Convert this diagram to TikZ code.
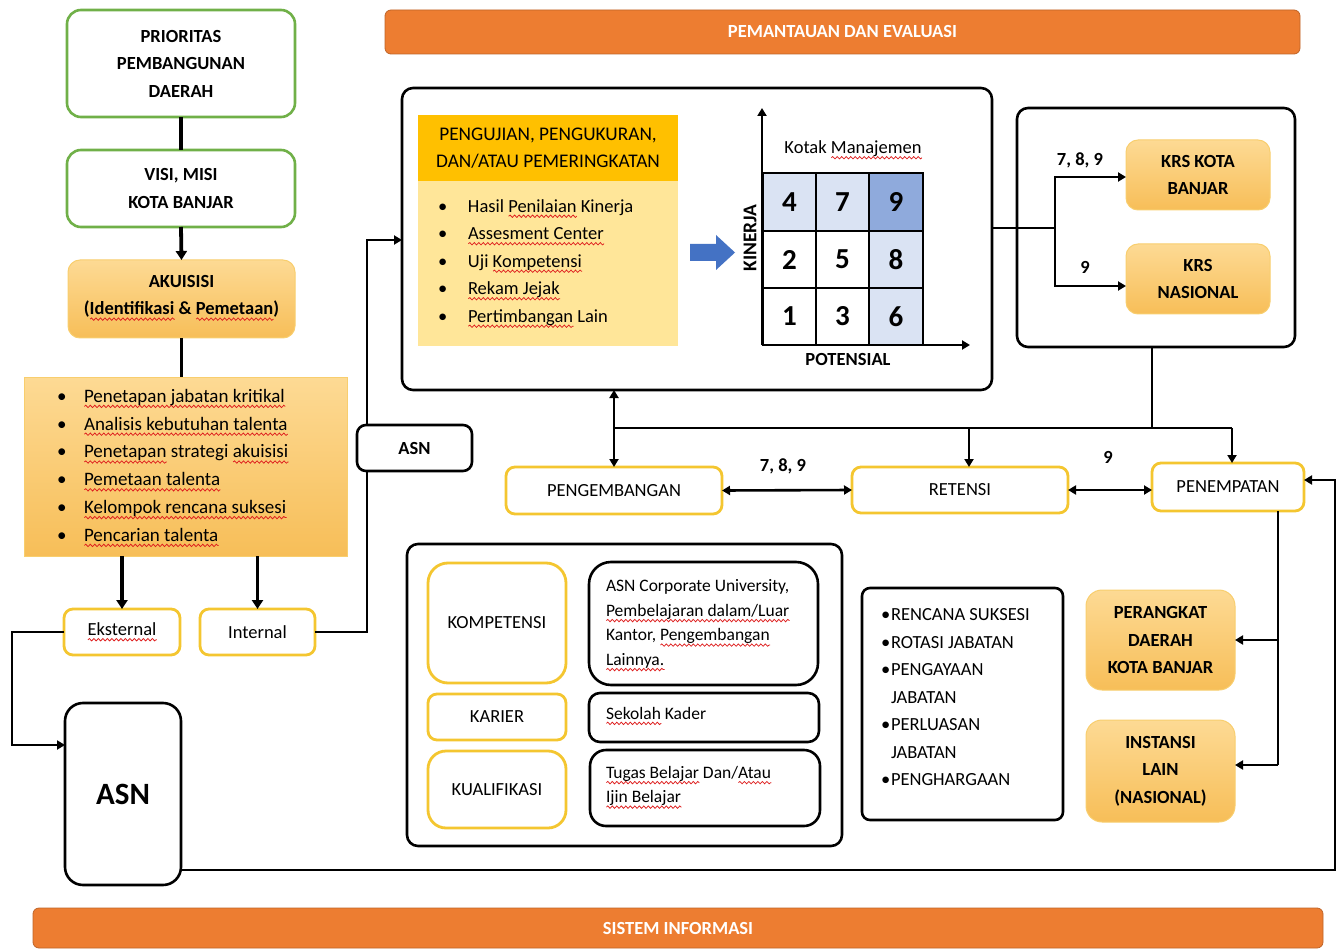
\documentclass[tikz,border=0pt]{standalone}
\usepackage{fontspec}
\setmainfont{Carlito}
\usetikzlibrary{arrows.meta,calc,decorations.pathmorphing}
\definecolor{wavered}{RGB}{222,30,30}
\definecolor{boxgreen}{RGB}{112,176,72}
\definecolor{ybord}{RGB}{244,198,48}
\definecolor{ortop}{RGB}{253,218,148}
\definecolor{orbot}{RGB}{247,190,88}
\definecolor{oredge}{RGB}{248,206,110}
\definecolor{bannerc}{RGB}{237,125,49}
\definecolor{bannerdk}{RGB}{190,100,40}
\definecolor{gold}{RGB}{255,192,0}
\definecolor{paleyel}{RGB}{255,230,153}
\definecolor{blueL}{RGB}{218,227,243}
\definecolor{blueM}{RGB}{143,170,220}
\definecolor{arrowblue}{RGB}{68,114,196}
\newsavebox\rwbox
\newcommand\rw[1]{\leavevmode\sbox\rwbox{#1}\rlap{\tikz[x=1pt,y=1pt,baseline=0pt,sharp corners]\draw[draw=wavered,fill=none,sharp corners,solid,line width=0.75pt,decorate,decoration={snake,amplitude=1.2pt,segment length=4.5pt}] (0pt,-4.2pt) -- (\the\wd\rwbox,-4.2pt);}\usebox\rwbox}
\newcommand\fsz{\fontsize{18.5}{27.5}\selectfont}
\newcommand\fsm{\fontsize{17.5}{24.5}\selectfont}
\newcommand\bul[1]{\makebox[#1][l]{\textbullet}}
\begin{document}
\begin{tikzpicture}[x=1pt,y=-1pt,
 every node/.style={inner sep=0pt,outer sep=0pt,font=\fsz},
 greenbox/.style={draw=boxgreen,line width=2.6pt,rounded corners=14pt,fill=white,align=center,font=\fsz\bfseries},
 orbox/.style={draw=oredge,line width=1pt,top color=ortop,bottom color=orbot,rounded corners=12pt,align=center,font=\fsz\bfseries},
 ybox/.style={draw=ybord,line width=2.8pt,rounded corners=9pt,fill=white,align=center},
 bbox/.style={draw=black,line width=2.6pt,rounded corners=11pt,fill=white},
 bannerbox/.style={draw=bannerdk,line width=0.8pt,fill=bannerc,rounded corners=6pt,text=white,font=\fsz\bfseries},
 conn/.style={draw=black,line width=2.6pt},
 tconn/.style={draw=black,line width=3.8pt},
 arr/.style={conn,-{Triangle[length=8pt,width=9pt]}},
 tarr/.style={tconn,-{Triangle[length=9pt,width=11pt]}},
 darr/.style={conn,{Triangle[length=8pt,width=9pt]}-{Triangle[length=8pt,width=9pt]}},
 lbl/.style={font=\fsz\bfseries},
 num/.style={font=\fontsize{29}{30}\selectfont\bfseries}
]
\useasboundingbox (0,0) rectangle (1343,949);

% banners
\node[bannerbox,minimum width=915pt,minimum height=44pt] (pem) at (842.5,32) {PEMANTAUAN DAN EVALUASI};
\node[bannerbox,minimum width=1290pt,minimum height=40pt] (sis) at (678,928) {SISTEM INFORMASI};

% left column
\node[greenbox,minimum width=228pt,minimum height=107pt] (prio) at (181,63.5) {PRIORITAS\\PEMBANGUNAN\\DAERAH};
\node[greenbox,minimum width=228pt,minimum height=77pt] (visi) at (181,188.5) {VISI, MISI\\KOTA BANJAR};
\node[orbox,minimum width=227pt,minimum height=78pt] (akui) at (181.5,299) {};
\node[align=center,font=\fsz\bfseries] (akuit) at (181.5,298) {AKUISISI\\(\rw{Identifikasi} \& \rw{Pemetaan})};
\node[orbox,rounded corners=0pt,minimum width=323pt,minimum height=179pt] (aklist) at (185.5,466.5) {};
\node[anchor=west,align=left,font=\fontsize{19}{27.8}\selectfont] (aklistt) at (57,468) {\bul{27pt}\rw{Penetapan jabatan kritikal}\\
\bul{27pt}\rw{Analisis kebutuhan talenta}\\
\bul{27pt}\rw{Penetapan} strategi \rw{akuisisi}\\
\bul{27pt}\rw{Pemetaan talenta}\\
\bul{27pt}\rw{Kelompok rencana suksesi}\\
\bul{27pt}\rw{Pencarian talenta}};
\node[ybox,minimum width=116pt,minimum height=46pt] (eks) at (122,632) {};
\node (ekst) at (122,632) {\rw{Eksternal}};
\node[ybox,minimum width=115pt,minimum height=46pt] (int) at (257.5,632) {Internal};
\node[bbox,rounded corners=18pt,minimum width=116pt,minimum height=182pt,font=\fontsize{31}{33}\selectfont\bfseries] (asnbig) at (123,794) {ASN};

% main box
\node[bbox,minimum width=590pt,minimum height=302pt] (main) at (697,239) {};
\node[fill=gold,minimum width=260pt,minimum height=66pt,align=center,font=\fontsize{19.3}{27}\selectfont] (phead) at (548,148) {PENGUJIAN, PENGUKURAN,\\DAN/ATAU PEMERINGKATAN};
\node[fill=paleyel,minimum width=260pt,minimum height=165pt] (pbody) at (548,263.5) {};
\node[anchor=west,align=left] (pbodyt) at (438,263.5) {\bul{30pt}Hasil \rw{Penilaian} Kinerja\\
\bul{30pt}\rw{Assesment Center}\\
\bul{30pt}Uji \rw{Kompetensi}\\
\bul{30pt}\rw{Rekam Jejak}\\
\bul{30pt}\rw{Pertimbangan} Lain};
\fill[arrowblue] (690,244) -- (716,244) -- (716,235) -- (735,252.5) -- (716,270) -- (716,261) -- (690,261) -- cycle;
\node (kotak) at (853,150) {Kotak \rw{Manajemen}};
\node[lbl,rotate=90,font=\fontsize{19.5}{22}\selectfont\bfseries] (kin) at (750,238) {KINERJA};
\node[lbl] (pot) at (848,359) {POTENSIAL};
\fill[blueL] (763,173) rectangle (869,231);
\fill[blueM] (869,173) rectangle (923,231);
\fill[blueL] (869,231) rectangle (923,345);
\draw[conn] (763,173) rectangle (923,345);
\draw[conn] (816,173) -- (816,345) (869,173) -- (869,345) (763,231) -- (923,231) (763,288) -- (923,288);
\draw[arr] (762,345) -- (762,108);
\draw[arr] (762,345) -- (970,345);
\node[num] (n4) at (789.5,202) {4};
\node[num] (n7) at (842.5,202) {7};
\node[num] (n9) at (896,202) {9};
\node[num] (n2) at (789.5,259.5) {2};
\node[num] (n5) at (842.5,259.5) {5};
\node[num] (n8) at (896,259.5) {8};
\node[num] (n1) at (789.5,316.5) {1};
\node[num] (n3) at (842.5,316.5) {3};
\node[num] (n6) at (896,316.5) {6};

% right box
\node[bbox,fill=none,minimum width=278pt,minimum height=239pt] (rbox) at (1156,227.5) {};
\node[orbox,minimum width=144pt,minimum height=70pt] (krs1) at (1198,175) {KRS KOTA\\BANJAR};
\node[orbox,minimum width=144pt,minimum height=70pt] (krs2) at (1198,279) {KRS\\NASIONAL};
\node[lbl] (l789a) at (1080,160) {7, 8, 9};
\node[lbl] (l9a) at (1085,267) {9};

% middle row
\node[ybox,minimum width=216pt,minimum height=47pt] (peng) at (614,490.5) {PENGEMBANGAN};
\node[ybox,minimum width=216pt,minimum height=46pt] (ret) at (960,490) {RETENSI};
\node[ybox,minimum width=152pt,minimum height=48pt] (pen) at (1228,487) {PENEMPATAN};
\node[lbl] (l789b) at (783,466) {7, 8, 9};
\node[lbl] (l9b) at (1108,457) {9};

% bottom center box
\node[bbox,minimum width=435pt,minimum height=302pt] (dev) at (624.5,695) {};
\node[ybox,rounded corners=20pt,minimum width=138pt,minimum height=120pt] (komp) at (497,623) {KOMPETENSI};
\node[ybox,minimum width=138pt,minimum height=46pt] (kar) at (497,717) {KARIER};
\node[ybox,rounded corners=18pt,minimum width=138pt,minimum height=77pt] (kual) at (497,789.5) {KUALIFIKASI};
\node[bbox,rounded corners=22pt,minimum width=229pt,minimum height=123pt] (asncorp) at (703.5,623.5) {};
\node[anchor=west,align=left,font=\fsm] (asncorpt) at (606,625.5) {ASN Corporate University,\\\rw{Pembelajaran dalam/Luar}\\Kantor, \rw{Pengembangan}\\\rw{Lainnya.}};
\node[bbox,minimum width=230pt,minimum height=49pt] (sek) at (704,717.5) {};
\node[anchor=west,font=\fsm] (sekt) at (606,716) {\rw{Sekolah} Kader};
\node[bbox,rounded corners=16pt,minimum width=230pt,minimum height=76pt] (tug) at (705,788) {};
\node[anchor=west,align=left,font=\fsm] (tugt) at (606,787.5) {\rw{Tugas Belajar} Dan/\rw{Atau}\\\rw{Ijin Belajar}};

% retention list
\node[bbox,rounded corners=8pt,minimum width=201pt,minimum height=232pt] (rlist) at (962.5,704) {};
\node[anchor=west,align=left] (rlistt) at (881,697.5) {\bul{10pt}RENCANA SUKSESI\\
\bul{10pt}ROTASI JABATAN\\
\bul{10pt}PENGAYAAN\\
\hspace*{10pt}JABATAN\\
\bul{10pt}PERLUASAN\\
\hspace*{10pt}JABATAN\\
\bul{10pt}PENGHARGAAN};

% placement targets
\node[orbox,rounded corners=16pt,minimum width=149pt,minimum height=100pt] (perangkat) at (1160.5,640) {PERANGKAT\\DAERAH\\KOTA BANJAR};
\node[orbox,rounded corners=16pt,minimum width=149pt,minimum height=102pt] (instansi) at (1160.5,771) {INSTANSI\\LAIN\\(NASIONAL)};

% helper coordinates
\coordinate (ia) at (367,240);
\coordinate (ib) at (367,632);
\coordinate (ea) at (12,745);
\coordinate (br) at (1055,228);
\coordinate (k1) at (1055,177);
\coordinate (k2) at (1055,286);
\coordinate (bus) at (1152,428);
\coordinate (ra) at (969,428);
\coordinate (pa) at (1232,428);
\coordinate (pv) at (1278,511);
\coordinate (pi) at (1278,765);
\coordinate (ab) at (1335,870);
\coordinate (pe) at (1335,480);

% connectors
\draw[tconn] (prio.south) -- (visi.north);
\draw[tarr] (visi.south) -- (akui.north);
\draw[conn] (akui.south) -- (akui.south |- aklist.north);
\draw[tarr] (eks.north |- aklist.south) -- (eks.north);
\draw[tarr] (int.north |- aklist.south) -- (int.north);
\draw[arr] (int.east) -- (ib) -- (ia) -- (main.west |- ia);
\draw[arr] (eks.west) -| (ea) -- (asnbig.west |- ea);
\draw[conn] (main.east |- br) -- (br);
\draw[arr] (br) -- (k1) -- (krs1.west |- k1);
\draw[arr] (br) -- (k2) -- (krs2.west |- k2);
\draw[conn] (rbox.south -| bus) -- (bus);
\draw[conn] (peng.north |- bus) -- (pa);
\draw[darr] (peng.north |- main.south) -- (peng.north);
\draw[arr] (ra) -- (ra |- ret.north);
\draw[arr] (pa) -- (pa |- pen.north);
\draw[darr] (peng.east) -- (ret.west);
\draw[darr] (ret.east) -- (pen.west |- ret.east);
\draw[conn] (pv |- pen.south) -- (pi);
\draw[arr] (pi) -- (instansi.east |- pi);
\draw[arr] (pv |- perangkat.east) -- (perangkat.east);
\draw[arr] (asnbig.east |- ab) -- (ab) -- (pe) -- (pen.east |- pe);

% small ASN box on the internal line
\node[bbox,rounded corners=9pt,minimum width=115pt,minimum height=46pt,font=\fsz\bfseries] (asnsmall) at (414.5,448) {ASN};
\end{tikzpicture}
\end{document}
